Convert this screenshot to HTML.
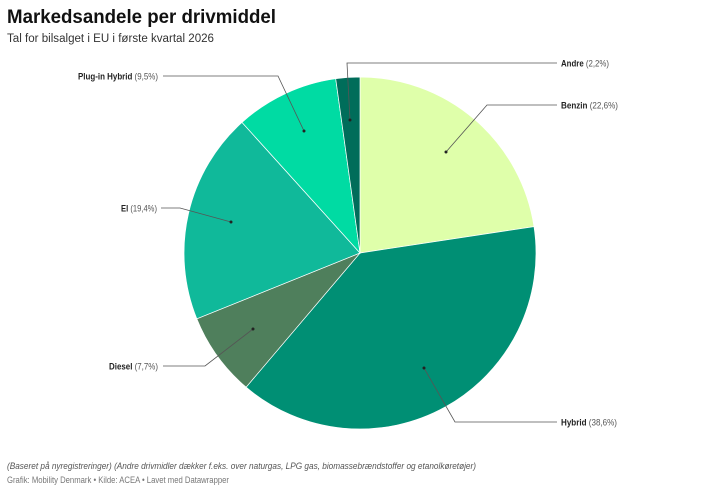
<!DOCTYPE html>
<html><head><meta charset="utf-8"><style>
body{margin:0;width:720px;height:491px;background:#fff;font-family:"Liberation Sans",sans-serif;overflow:hidden}
</style></head><body>
<svg width="720" height="491" xmlns="http://www.w3.org/2000/svg" font-family="Liberation Sans, sans-serif">
<text x="7" y="23" font-size="19" font-weight="bold" fill="#111" textLength="269" lengthAdjust="spacingAndGlyphs">Markedsandele per drivmiddel</text>
<text x="7" y="42" font-size="11.5" fill="#333" textLength="207" lengthAdjust="spacingAndGlyphs">Tal for bilsalget i EU i første kvartal 2026</text>
<g stroke="#fff" stroke-width="0.7">
<path d="M360,253 L360,77 A176,176 0 0 1 534,226.6 Z" fill="#dfffaa"/>
<path d="M360,253 L534,226.6 A176,176 0 0 1 246.1,387.2 Z" fill="#008f74"/>
<path d="M360,253 L246.1,387.2 A176,176 0 0 1 196.8,318.8 Z" fill="#4f7f5c"/>
<path d="M360,253 L196.8,318.8 A176,176 0 0 1 242,122.4 Z" fill="#10b99a"/>
<path d="M360,253 L242,122.4 A176,176 0 0 1 335.7,78.7 Z" fill="#00dba3"/>
<path d="M360,253 L335.7,78.7 A176,176 0 0 1 360,77 Z" fill="#006d5a"/>
</g>
<g stroke="#555" stroke-width="0.8" fill="none">
<polyline points="350,120 347,63 557,63"/>
<polyline points="446,152 487,105 557,105"/>
<polyline points="304,131 278,76 163,76"/>
<polyline points="231,222 180,208 161,208"/>
<polyline points="253,329 205,366 163,366"/>
<polyline points="424,368 455,422 557,422"/>
</g>
<g fill="#222">
<circle cx="350" cy="120" r="1.5"/><circle cx="446" cy="152" r="1.5"/><circle cx="304" cy="131" r="1.5"/>
<circle cx="231" cy="222" r="1.5"/><circle cx="253" cy="329" r="1.5"/><circle cx="424" cy="368" r="1.5"/>
</g>
<g font-size="9.5" fill="#222">
<text x="561" y="66.5" textLength="48" lengthAdjust="spacingAndGlyphs"><tspan font-weight="bold">Andre</tspan><tspan fill="#555"> (2,2%)</tspan></text>
<text x="561" y="108.5" textLength="57" lengthAdjust="spacingAndGlyphs"><tspan font-weight="bold">Benzin</tspan><tspan fill="#555"> (22,6%)</tspan></text>
<text x="561" y="425.5" textLength="56" lengthAdjust="spacingAndGlyphs"><tspan font-weight="bold">Hybrid</tspan><tspan fill="#555"> (38,6%)</tspan></text>
<text x="78" y="79.5" textLength="80" lengthAdjust="spacingAndGlyphs"><tspan font-weight="bold">Plug-in Hybrid</tspan><tspan fill="#555"> (9,5%)</tspan></text>
<text x="121" y="211.5" textLength="36" lengthAdjust="spacingAndGlyphs"><tspan font-weight="bold">El</tspan><tspan fill="#555"> (19,4%)</tspan></text>
<text x="109" y="369.5" textLength="49" lengthAdjust="spacingAndGlyphs"><tspan font-weight="bold">Diesel</tspan><tspan fill="#555"> (7,7%)</tspan></text>
</g>
<text x="7" y="469" font-size="9.5" font-style="italic" fill="#555" textLength="469" lengthAdjust="spacingAndGlyphs">(Baseret på nyregistreringer) (Andre drivmidler dækker f.eks. over naturgas, LPG gas, biomassebrændstoffer og etanolkøretøjer)</text>
<text x="7" y="483" font-size="9" fill="#777" textLength="222" lengthAdjust="spacingAndGlyphs">Grafik: Mobility Denmark • Kilde: ACEA • Lavet med Datawrapper</text>
</svg>
</body></html>
